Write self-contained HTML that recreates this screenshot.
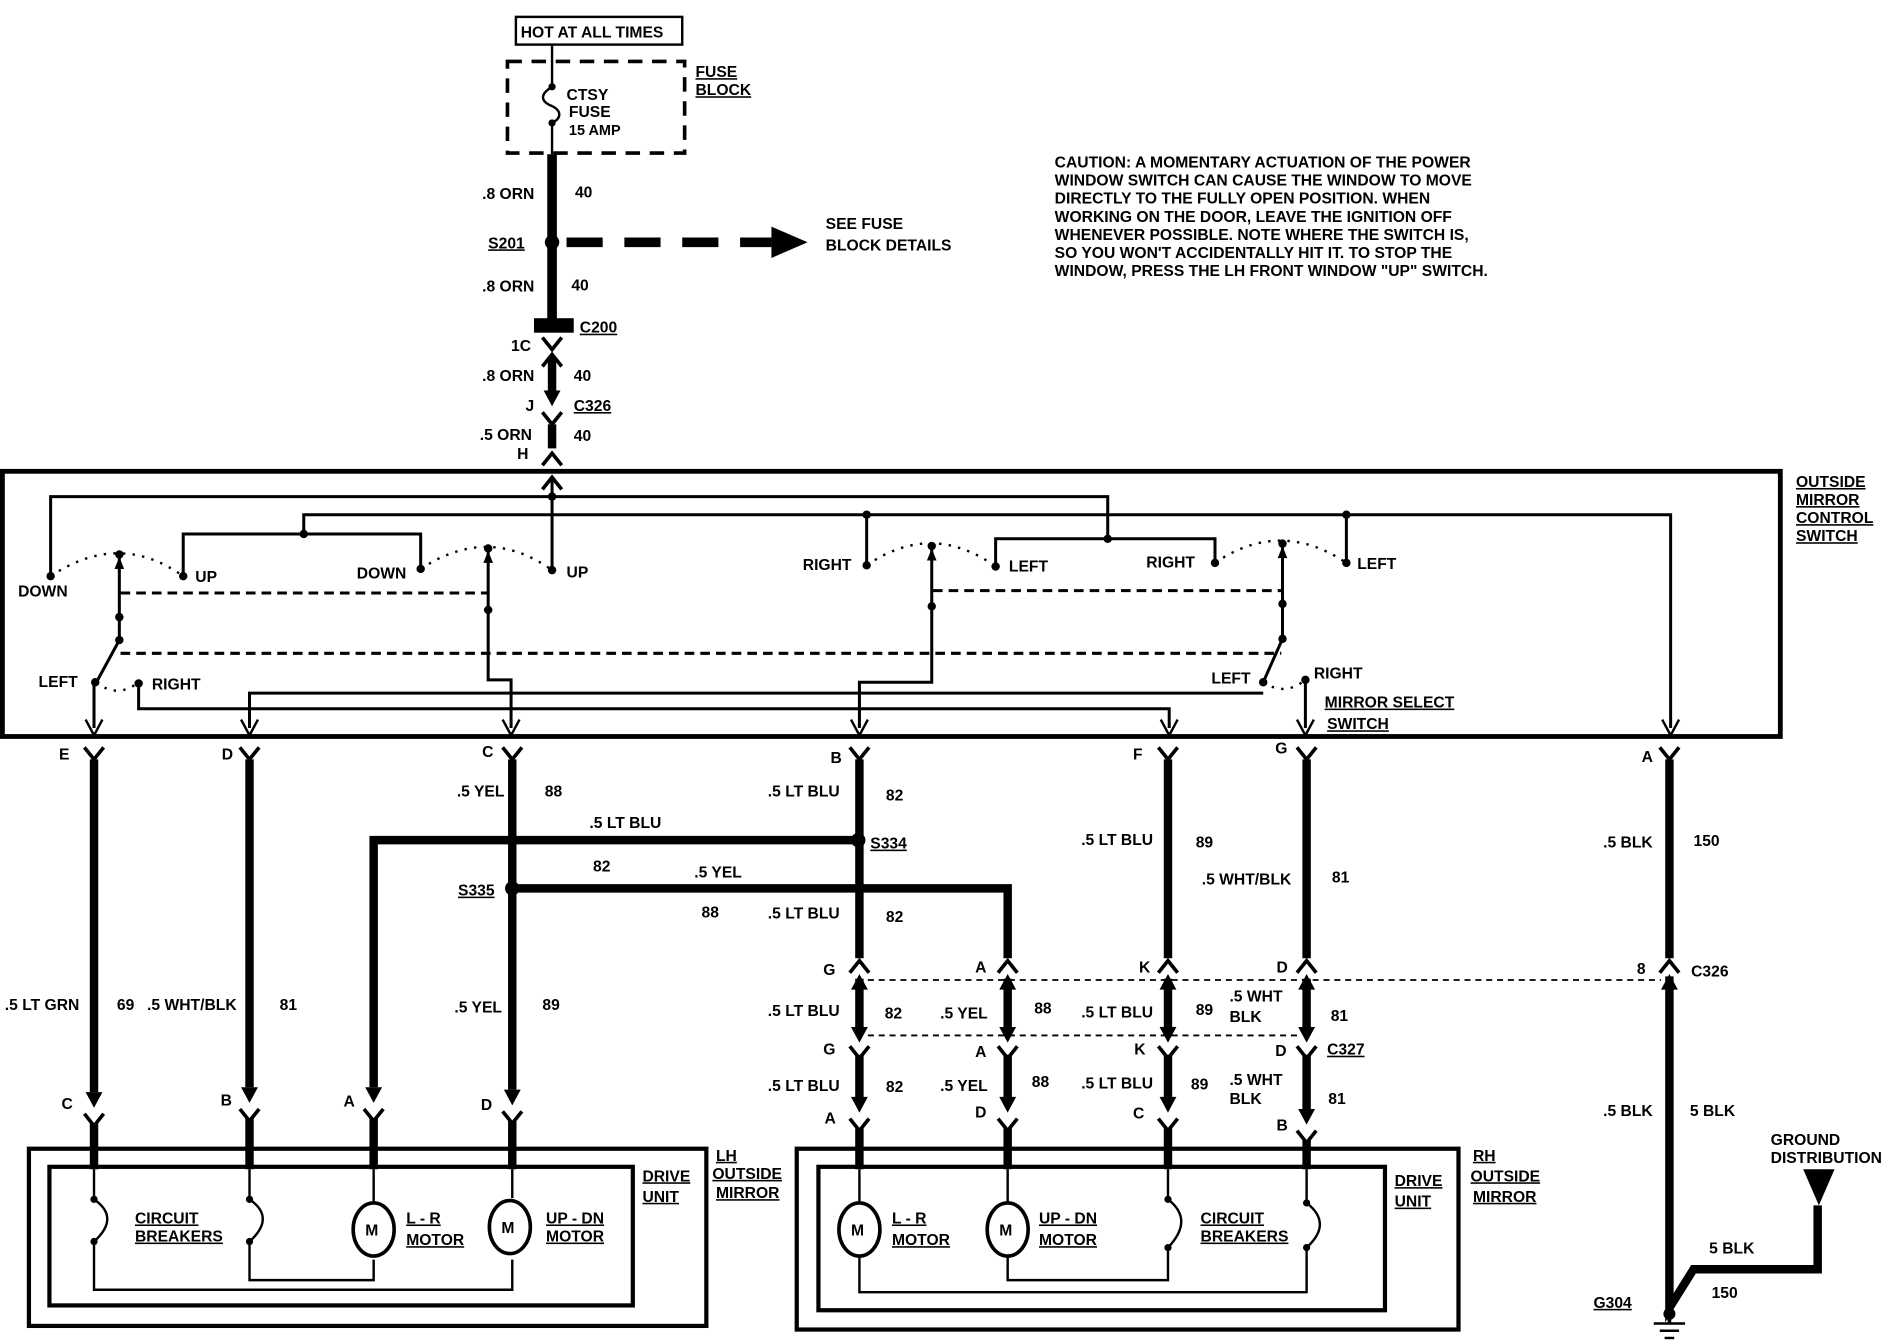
<!DOCTYPE html>
<html><head><meta charset="utf-8"><style>
html,body{margin:0;padding:0;background:#fff;}
svg{display:block}
text{font-family:"Liberation Sans",Arial,sans-serif;font-weight:bold;font-size:13px;fill:#000;}
</style></head><body>
<svg width="1890" height="1344" viewBox="0 0 1568 1115" preserveAspectRatio="none" xmlns="http://www.w3.org/2000/svg">
<defs>
<path id="fa" d="M-7,-12 L7,-12 L0,1 Z" fill="#000"/>
<path id="ua" d="M-7,12 L7,12 L0,-1 Z" fill="#000"/>
<polyline id="ch" points="-8,-10 0,0 8,-10" fill="none" stroke="#000" stroke-width="3"/>
<polyline id="uc" points="-8,10 0,0 8,10" fill="none" stroke="#000" stroke-width="3"/>
<polyline id="tv" points="-7,-13 0,0 7,-13" fill="none" stroke="#000" stroke-width="2"/>
</defs>
<rect width="1568" height="1115" fill="#fff"/>

<!-- top -->
<rect x="428" y="14" width="138" height="23" fill="none" stroke="#000" stroke-width="2"/>
<text x="432" y="31">HOT AT ALL TIMES</text>
<rect x="421" y="51" width="147" height="76" fill="none" stroke="#000" stroke-width="3" stroke-dasharray="12,8"/>
<line x1="458" y1="37" x2="458" y2="72" stroke="#000" stroke-width="2"/>
<path d="M458,72 C448,78 448,84 458,88 C466,92 466,98 458,102" fill="none" stroke="#000" stroke-width="2"/>
<circle cx="458" cy="72" r="3"/><circle cx="458" cy="102" r="3"/>
<line x1="458" y1="102" x2="458" y2="128" stroke="#000" stroke-width="2"/>
<text x="470" y="83">CTSY</text><text x="472" y="97">FUSE</text><text x="472" y="112" style="font-size:12px">15 AMP</text>
<text x="577" y="64" text-decoration="underline">FUSE</text><text x="577" y="79" text-decoration="underline">BLOCK</text>

<line x1="458" y1="128" x2="458" y2="268" stroke="#000" stroke-width="8"/>
<text x="400" y="165">.8 ORN</text><text x="477" y="164">40</text>
<circle cx="458" cy="201" r="6"/>
<text x="405" y="206" text-decoration="underline">S201</text>
<line x1="470" y1="201" x2="640" y2="201" stroke="#000" stroke-width="8" stroke-dasharray="30,18"/>
<path d="M640,188 L670,201 L640,214 Z"/>
<text x="685" y="190">SEE FUSE</text><text x="685" y="208">BLOCK DETAILS</text>
<text x="400" y="242">.8 ORN</text><text x="474" y="241">40</text>
<rect x="443" y="264" width="33" height="12"/>
<text x="481" y="276" text-decoration="underline">C200</text>
<use href="#ch" x="458" y="290"/>
<use href="#uc" x="458" y="294"/>
<text x="424" y="291">1C</text>
<line x1="458" y1="296" x2="458" y2="330" stroke="#000" stroke-width="7"/>
<use href="#fa" x="458" y="336"/>
<text x="400" y="316">.8 ORN</text><text x="476" y="316">40</text>
<text x="436" y="341">J</text><text x="476" y="341" text-decoration="underline">C326</text>
<use href="#ch" x="458" y="352"/>
<line x1="458" y1="352" x2="458" y2="372" stroke="#000" stroke-width="7"/>
<text x="398" y="365">.5 ORN</text><text x="476" y="366">40</text>
<text x="429" y="381">H</text>
<use href="#uc" x="458" y="376"/>
<use href="#uc" x="458" y="396"/>

<!-- caution -->
<g style="font-size:12.5px">
<text x="875" y="139">CAUTION: A MOMENTARY ACTUATION OF THE POWER</text>
<text x="875" y="154">WINDOW SWITCH CAN CAUSE THE WINDOW TO MOVE</text>
<text x="875" y="169">DIRECTLY TO THE FULLY OPEN POSITION. WHEN</text>
<text x="875" y="184">WORKING ON THE DOOR, LEAVE THE IGNITION OFF</text>
<text x="875" y="199">WHENEVER POSSIBLE. NOTE WHERE THE SWITCH IS,</text>
<text x="875" y="214">SO YOU WON'T ACCIDENTALLY HIT IT. TO STOP THE</text>
<text x="875" y="229">WINDOW, PRESS THE LH FRONT WINDOW "UP" SWITCH.</text>
</g>

<!-- switch box -->
<rect x="2" y="391" width="1475" height="220" fill="none" stroke="#000" stroke-width="4"/>
<text x="1490" y="404" text-decoration="underline">OUTSIDE</text>
<text x="1490" y="419" text-decoration="underline">MIRROR</text>
<text x="1490" y="434" text-decoration="underline">CONTROL</text>
<text x="1490" y="449" text-decoration="underline">SWITCH</text>
<g fill="none" stroke="#000" stroke-width="2.5">
<polyline points="458,396 458,473"/>
<polyline points="42,478 42,412 919,412 919,447"/>
<polyline points="826,470 826,447 1008,447 1008,467"/>
<polyline points="252,443 252,427 1386,427 1386,604"/>
<polyline points="152,478 152,443 349,443 349,472"/>
<line x1="719" y1="427" x2="719" y2="469"/>
<line x1="1117" y1="427" x2="1117" y2="467"/>
<!-- levers -->
<polyline points="99,462 99,531 80,566"/>
<polyline points="405,457 405,564 424,564 424,604"/>
<polyline points="773,455 773,566 713,566 713,604"/>
<polyline points="1064,453 1064,530 1048,566"/>
<polyline points="78,566 78,604"/>
<polyline points="115,566 115,588 970,588 970,604"/>
<polyline points="207,604 207,575 1048,575"/>
<polyline points="1083,564 1083,604"/>
</g>
<g fill="none" stroke="#000" stroke-width="2" stroke-dasharray="2,6">
<path d="M42,478 Q99,440 152,478"/>
<path d="M349,472 Q405,435 458,473"/>
<path d="M719,469 Q773,432 826,470"/>
<path d="M1008,467 Q1062,430 1117,467"/>
<path d="M80,566 Q97,580 115,566"/>
<path d="M1048,566 Q1066,578 1083,564"/>
</g>
<g fill="none" stroke="#000" stroke-width="2.5" stroke-dasharray="8,5">
<line x1="100" y1="492" x2="405" y2="492"/>
<line x1="774" y1="490" x2="1063" y2="490"/>
<line x1="100" y1="542" x2="1063" y2="542"/>
</g>
<g>
<circle cx="458" cy="412" r="3.5"/><circle cx="919" cy="447" r="3.5"/><circle cx="252" cy="443" r="3.5"/>
<circle cx="719" cy="427" r="3.5"/><circle cx="1117" cy="427" r="3.5"/>
<circle cx="42" cy="478" r="3.5"/><circle cx="152" cy="478" r="3.5"/><circle cx="349" cy="472" r="3.5"/><circle cx="458" cy="473" r="3.5"/>
<circle cx="719" cy="469" r="3.5"/><circle cx="826" cy="470" r="3.5"/><circle cx="1008" cy="467" r="3.5"/><circle cx="1117" cy="467" r="3.5"/>
<circle cx="99" cy="460" r="3.5"/><circle cx="405" cy="455" r="3.5"/><circle cx="773" cy="453" r="3.5"/><circle cx="1064" cy="451" r="3.5"/>
<circle cx="99" cy="512" r="3.5"/><circle cx="99" cy="531" r="3.5"/><circle cx="405" cy="506" r="3.5"/><circle cx="773" cy="503" r="3.5"/>
<circle cx="1064" cy="501" r="3.5"/><circle cx="1064" cy="530" r="3.5"/>
<circle cx="79" cy="566" r="3.5"/><circle cx="115" cy="567" r="3.5"/><circle cx="1048" cy="566" r="3.5"/><circle cx="1083" cy="564" r="3.5"/>
<path d="M99,462 l-4,10 h8 z"/><path d="M405,457 l-4,10 h8 z"/><path d="M773,455 l-4,10 h8 z"/><path d="M1064,453 l-4,10 h8 z"/>
</g>
<text x="15" y="495">DOWN</text><text x="162" y="483">UP</text><text x="296" y="480">DOWN</text><text x="470" y="479">UP</text>
<text x="666" y="473">RIGHT</text><text x="837" y="474">LEFT</text><text x="951" y="471">RIGHT</text><text x="1126" y="472">LEFT</text>
<text x="32" y="570">LEFT</text><text x="126" y="572">RIGHT</text>
<text x="1005" y="567">LEFT</text><text x="1090" y="563">RIGHT</text>
<text x="1099" y="587" text-decoration="underline">MIRROR SELECT</text>
<text x="1101" y="605" text-decoration="underline">SWITCH</text>

<!-- bottom connectors of switch -->
<g>
<use href="#tv" x="78" y="610"/><use href="#tv" x="207" y="610"/><use href="#tv" x="424" y="610"/><use href="#tv" x="713" y="610"/>
<use href="#tv" x="970" y="610"/><use href="#tv" x="1083" y="610"/><use href="#tv" x="1386" y="610"/>
<use href="#ch" x="78" y="630"/><use href="#ch" x="207" y="630"/><use href="#ch" x="425" y="630"/><use href="#ch" x="713" y="630"/>
<use href="#ch" x="969" y="630"/><use href="#ch" x="1084" y="630"/><use href="#ch" x="1385" y="630"/>
</g>
<text x="49" y="630">E</text><text x="184" y="630">D</text><text x="400" y="628">C</text><text x="689" y="633">B</text>
<text x="940" y="630">F</text><text x="1058" y="625">G</text><text x="1362" y="632">A</text>

<!-- wires -->
<g stroke="#000" stroke-width="7" fill="none">
<line x1="78" y1="630" x2="78" y2="906"/>
<line x1="207" y1="630" x2="207" y2="902"/>
<line x1="425" y1="630" x2="425" y2="904"/>
<polyline points="712,697 310,697 310,902"/>
<polyline points="425,737 836,737 836,795"/>
<line x1="713" y1="630" x2="713" y2="795"/>
<line x1="969" y1="630" x2="969" y2="795"/>
<line x1="1084" y1="630" x2="1084" y2="795"/>
<line x1="1385" y1="630" x2="1385" y2="795"/>
<line x1="713" y1="812" x2="713" y2="852"/><line x1="836" y1="812" x2="836" y2="852"/>
<line x1="969" y1="812" x2="969" y2="852"/><line x1="1084" y1="812" x2="1084" y2="852"/>
<line x1="713" y1="875" x2="713" y2="912"/><line x1="836" y1="875" x2="836" y2="912"/>
<line x1="969" y1="875" x2="969" y2="912"/><line x1="1084" y1="875" x2="1084" y2="922"/>
<polyline points="1385,810 1385,1085 1405,1053 1508,1053 1508,1000"/>
<line x1="78" y1="932" x2="78" y2="970"/><line x1="207" y1="928" x2="207" y2="970"/>
<line x1="310" y1="928" x2="310" y2="970"/><line x1="425" y1="930" x2="425" y2="970"/>
<line x1="713" y1="936" x2="713" y2="970"/><line x1="836" y1="936" x2="836" y2="970"/>
<line x1="969" y1="936" x2="969" y2="970"/><line x1="1084" y1="946" x2="1084" y2="970"/>
</g>
<circle cx="425" cy="737" r="6"/><circle cx="712" cy="697" r="6"/>
<text x="380" y="743" text-decoration="underline">S335</text>
<text x="722" y="704" text-decoration="underline">S334</text>

<!-- middle connector rows -->
<g>
<use href="#uc" x="713" y="797"/><use href="#uc" x="836" y="797"/><use href="#uc" x="969" y="797"/><use href="#uc" x="1084" y="797"/><use href="#uc" x="1385" y="797"/>
<use href="#ua" x="713" y="809"/><use href="#ua" x="836" y="809"/><use href="#ua" x="969" y="809"/><use href="#ua" x="1084" y="809"/><use href="#ua" x="1385" y="809"/>
<use href="#fa" x="713" y="864"/><use href="#fa" x="836" y="864"/><use href="#fa" x="969" y="864"/><use href="#fa" x="1084" y="864"/>
<use href="#ch" x="713" y="878"/><use href="#ch" x="836" y="878"/><use href="#ch" x="969" y="878"/><use href="#ch" x="1084" y="878"/>
<use href="#fa" x="713" y="922"/><use href="#fa" x="836" y="922"/><use href="#fa" x="969" y="922"/><use href="#fa" x="1084" y="932"/>
<use href="#ch" x="713" y="938"/><use href="#ch" x="836" y="938"/><use href="#ch" x="969" y="938"/><use href="#ch" x="1084" y="948"/>
<use href="#fa" x="78" y="918"/><use href="#fa" x="207" y="914"/><use href="#fa" x="310" y="914"/><use href="#fa" x="425" y="916"/>
<use href="#ch" x="78" y="934"/><use href="#ch" x="207" y="930"/><use href="#ch" x="310" y="930"/><use href="#ch" x="425" y="932"/>
</g>
<g fill="none" stroke="#000" stroke-width="1.5" stroke-dasharray="5,4">
<line x1="720" y1="813" x2="1378" y2="813"/>
<line x1="720" y1="859" x2="1078" y2="859"/>
</g>

<!-- wire labels -->
<text x="4" y="838">.5 LT GRN</text><text x="97" y="838">69</text>
<text x="122" y="838">.5 WHT/BLK</text><text x="232" y="838">81</text>
<text x="379" y="661">.5 YEL</text><text x="452" y="661">88</text>
<text x="377" y="840">.5 YEL</text><text x="450" y="838">89</text>
<text x="489" y="687">.5 LT BLU</text><text x="492" y="723">82</text>
<text x="576" y="728">.5 YEL</text><text x="582" y="761">88</text>
<text x="637" y="661">.5 LT BLU</text><text x="735" y="664">82</text>
<text x="637" y="762">.5 LT BLU</text><text x="735" y="765">82</text>
<text x="637" y="843">.5 LT BLU</text><text x="734" y="845">82</text>
<text x="637" y="905">.5 LT BLU</text><text x="735" y="906">82</text>
<text x="780" y="845">.5 YEL</text><text x="858" y="841">88</text>
<text x="780" y="905">.5 YEL</text><text x="856" y="902">88</text>
<text x="897" y="701">.5 LT BLU</text><text x="992" y="703">89</text>
<text x="897" y="844">.5 LT BLU</text><text x="992" y="842">89</text>
<text x="897" y="903">.5 LT BLU</text><text x="988" y="904">89</text>
<text x="997" y="734">.5 WHT/BLK</text><text x="1105" y="732">81</text>
<text x="1020" y="831">.5 WHT</text><text x="1020" y="848">BLK</text><text x="1104" y="847">81</text>
<text x="1020" y="900">.5 WHT</text><text x="1020" y="916">BLK</text><text x="1102" y="916">81</text>
<text x="1330" y="703">.5 BLK</text><text x="1405" y="702">150</text>
<text x="1330" y="926">.5 BLK</text><text x="1402" y="926">5 BLK</text>
<text x="1418" y="1040">5 BLK</text><text x="1420" y="1077">150</text>
<text x="1322" y="1085" text-decoration="underline">G304</text>
<text x="1469" y="950">GROUND</text><text x="1469" y="965">DISTRIBUTION</text>
<path d="M1496,970 L1522,970 L1509,1000 Z"/>
<text x="683" y="809">G</text><text x="809" y="807">A</text><text x="945" y="807">K</text><text x="1059" y="807">D</text>
<text x="1358" y="808">8</text><text x="1403" y="810">C326</text>
<text x="683" y="875">G</text><text x="809" y="877">A</text><text x="941" y="875">K</text><text x="1058" y="876">D</text>
<text x="1101" y="875" text-decoration="underline">C327</text>
<text x="51" y="920">C</text><text x="183" y="917">B</text><text x="285" y="918">A</text><text x="399" y="921">D</text>
<text x="684" y="932">A</text><text x="809" y="927">D</text><text x="940" y="928">C</text><text x="1059" y="938">B</text>

<!-- ground -->
<circle cx="1385" cy="1090" r="5"/>
<line x1="1372" y1="1098" x2="1398" y2="1098" stroke="#000" stroke-width="2"/>
<line x1="1377" y1="1104" x2="1393" y2="1104" stroke="#000" stroke-width="2"/>
<line x1="1381" y1="1110" x2="1389" y2="1110" stroke="#000" stroke-width="2"/>
<line x1="1385" y1="1085" x2="1385" y2="1098" stroke="#000" stroke-width="3"/>

<!-- LH mirror -->
<rect x="24" y="953" width="562" height="147" fill="none" stroke="#000" stroke-width="3.5"/>
<rect x="41" y="968" width="484" height="115" fill="none" stroke="#000" stroke-width="3.5"/>
<text x="533" y="980" text-decoration="underline">DRIVE</text><text x="533" y="997" text-decoration="underline">UNIT</text>
<text x="594" y="963" text-decoration="underline">LH</text><text x="591" y="978" text-decoration="underline">OUTSIDE</text><text x="594" y="994" text-decoration="underline">MIRROR</text>
<g fill="none" stroke="#000" stroke-width="2">
<polyline points="78,970 78,995"/><path d="M78,995 Q100,1010 78,1030"/><polyline points="78,1030 78,1070 425,1070 425,1045"/>
<polyline points="207,970 207,995"/><path d="M207,995 Q229,1010 207,1030"/><polyline points="207,1030 207,1062 310,1062 310,1045"/>
<line x1="310" y1="970" x2="310" y2="998"/><line x1="425" y1="970" x2="425" y2="994"/>
<ellipse cx="310" cy="1020" rx="17" ry="22" stroke-width="3"/>
<ellipse cx="423" cy="1018" rx="17" ry="22" stroke-width="3"/>
<line x1="713" y1="970" x2="713" y2="998"/><line x1="836" y1="970" x2="836" y2="998"/>
<ellipse cx="713" cy="1020" rx="17" ry="22" stroke-width="3"/>
<ellipse cx="836" cy="1020" rx="17" ry="22" stroke-width="3"/>
<polyline points="713,1042 713,1072 1084,1072 1084,1035"/>
<polyline points="836,1042 836,1062 969,1062 969,1035"/>
<polyline points="969,970 969,995"/><path d="M969,995 Q991,1012 969,1035"/>
<polyline points="1084,970 1084,998"/><path d="M1084,998 Q1106,1015 1084,1035"/>
</g>
<circle cx="78" cy="995" r="3"/><circle cx="78" cy="1030" r="3"/><circle cx="207" cy="995" r="3"/><circle cx="207" cy="1030" r="3"/>
<circle cx="969" cy="995" r="3"/><circle cx="969" cy="1035" r="3"/><circle cx="1084" cy="998" r="3"/><circle cx="1084" cy="1035" r="3"/>
<text x="303" y="1025">M</text><text x="416" y="1023">M</text><text x="706" y="1025">M</text><text x="829" y="1025">M</text>
<text x="112" y="1015" text-decoration="underline">CIRCUIT</text><text x="112" y="1030" text-decoration="underline">BREAKERS</text>
<text x="337" y="1015" text-decoration="underline">L - R</text><text x="337" y="1033" text-decoration="underline">MOTOR</text>
<text x="453" y="1015" text-decoration="underline">UP - DN</text><text x="453" y="1030" text-decoration="underline">MOTOR</text>

<!-- RH mirror -->
<rect x="661" y="953" width="549" height="150" fill="none" stroke="#000" stroke-width="3.5"/>
<rect x="679" y="968" width="470" height="119" fill="none" stroke="#000" stroke-width="3.5"/>
<text x="1157" y="984" text-decoration="underline">DRIVE</text><text x="1157" y="1001" text-decoration="underline">UNIT</text>
<text x="1222" y="963" text-decoration="underline">RH</text><text x="1220" y="980" text-decoration="underline">OUTSIDE</text><text x="1222" y="997" text-decoration="underline">MIRROR</text>
<text x="740" y="1015" text-decoration="underline">L - R</text><text x="740" y="1033" text-decoration="underline">MOTOR</text>
<text x="862" y="1015" text-decoration="underline">UP - DN</text><text x="862" y="1033" text-decoration="underline">MOTOR</text>
<text x="996" y="1015" text-decoration="underline">CIRCUIT</text><text x="996" y="1030" text-decoration="underline">BREAKERS</text>
</svg>
</body></html>
